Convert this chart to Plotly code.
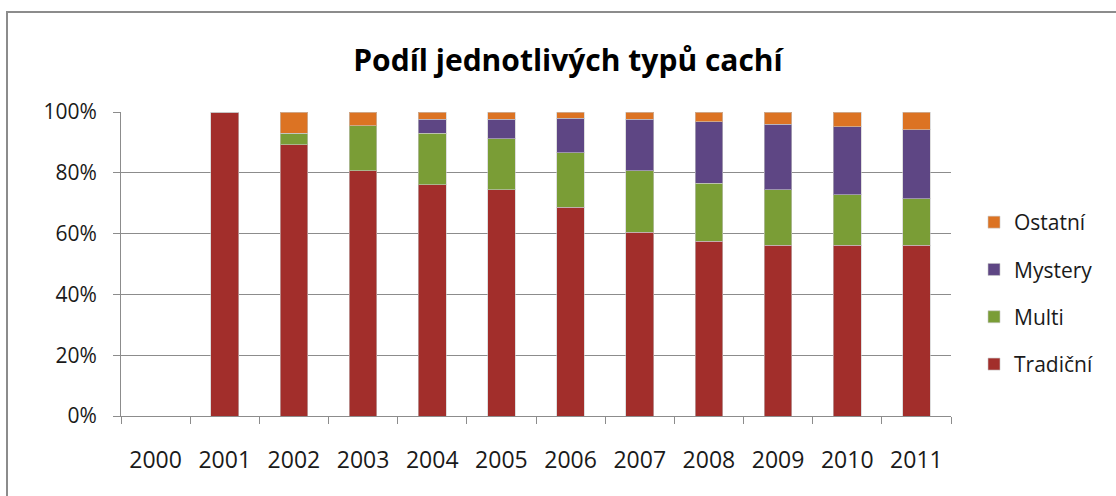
import plotly.graph_objects as go

years = ["2000", "2001", "2002", "2003", "2004", "2005", "2006", "2007", "2008", "2009", "2010", "2011"]
tradicni = [None, 100.0, 89.2, 80.7, 76.0, 74.4, 68.6, 60.4, 57.5, 56.2, 56.2, 56.2]
multi = [None, 0.0, 3.7, 14.8, 16.9, 16.8, 18.0, 20.2, 19.1, 18.2, 16.5, 15.3]
mystery = [None, 0.0, 0.0, 0.0, 4.6, 6.4, 11.4, 16.9, 20.2, 21.5, 22.4, 22.7]
ostatni = [None, 0.0, 7.0, 4.5, 2.4, 2.4, 2.0, 2.4, 3.2, 4.1, 4.9, 5.8]

series_names = ["Tradiční", "Multi", "Mystery", "Ostatní"]
series_values = [tradicni, multi, mystery, ostatni]
series_colors = ["#A22E2B", "#7A9D36", "#5E4684", "#DC7323"]
legend_ranks = [4, 3, 2, 1]
y_ticks = [0, 20, 40, 60, 80, 100]
y_tick_text = ["0%", "20%", "40%", "60%", "80%", "100%"]

FONT = "Open Sans"
W, H = 1116, 496
L, R, T, B = 121, 165, 112, 80

fig = go.Figure()
for name, vals, col, rank in zip(series_names, series_values, series_colors, legend_ranks):
    fig.add_trace(go.Bar(
        x=years, y=vals, name=name, legendgroup=name, legendrank=rank,
        marker=dict(color=col, line=dict(color="rgba(200,200,200,0.6)", width=1)),
    ))

pw = W - L - R
ph = H - T - B
def px_x(p):
    return (p - L) / pw
def px_y(p):
    return (H - B - p) / ph

fig.update_layout(
    width=W, height=H,
    barmode="stack", barnorm="percent", bargap=0.6,
    paper_bgcolor="white", plot_bgcolor="white",
    margin=dict(l=L, r=R, t=T, b=B, autoexpand=False),
    font=dict(family=FONT, size=23, color="#1a1a1a"),
    title=dict(text="<b>Podíl jednotlivých typů cachí</b>", x=568 / W, xanchor="center",
               y=1 - 60 / H, yanchor="middle", yref="container",
               font=dict(family=FONT, size=30, color="#000000")),
    legend=dict(traceorder="grouped", tracegroupgap=17,
                x=px_x(974), xanchor="left", y=px_y(202), yanchor="top",
                font=dict(family=FONT, size=21, color="#1a1a1a"),
                bgcolor="rgba(0,0,0,0)", itemwidth=30),
    xaxis=dict(type="category", categoryorder="array", categoryarray=years,
               range=[-0.5, len(years) - 0.5], showgrid=False,
               showline=True, linecolor="#8c8c8c", linewidth=1,
               ticks="outside", tickson="boundaries", ticklen=7, tickcolor="#8c8c8c",
               ticklabelstandoff=23, tickfont=dict(size=23)),
    yaxis=dict(range=[0, 100], tickmode="array", tickvals=y_ticks, ticktext=y_tick_text,
               showgrid=True, gridcolor="#8c8c8c", gridwidth=1,
               showline=True, linecolor="#8c8c8c", linewidth=1,
               ticks="outside", ticklen=7, tickcolor="#8c8c8c",
               ticklabelstandoff=12, tickfont=dict(size=21), zeroline=False),
    shapes=[dict(type="rect", xref="paper", yref="paper",
                 x0=px_x(7), x1=px_x(1125), y0=px_y(505), y1=px_y(12),
                 line=dict(color="#8c8c8c", width=2), fillcolor="rgba(0,0,0,0)",
                 layer="below")],
)

fig.write_html("out.html", config={"displayModeBar": False},
               post_script="document.body.style.margin='0';document.body.style.overflow='hidden';")
